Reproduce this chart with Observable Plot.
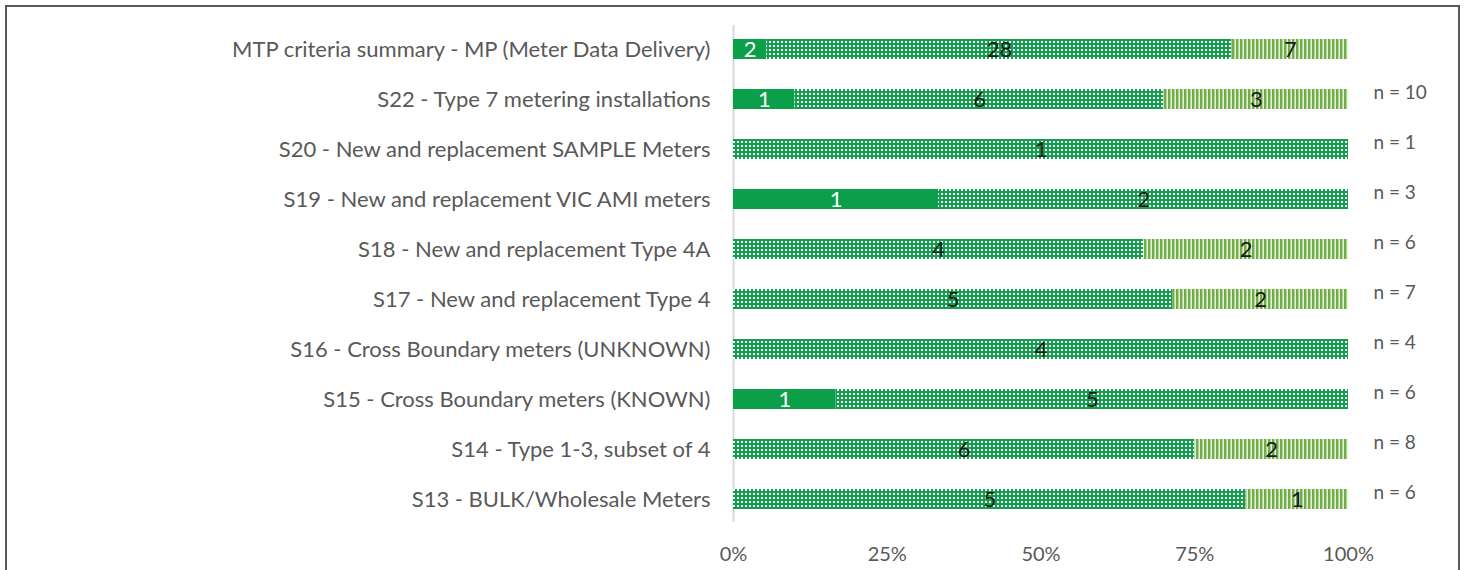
<!DOCTYPE html>
<html><head><meta charset="utf-8">
<script src="https://cdn.jsdelivr.net/npm/d3@7"></script>
<script src="https://cdn.jsdelivr.net/npm/@observablehq/plot@0.6"></script>
<style>
body{margin:0;background:#fff;}
#wrap{position:relative;width:1470px;height:570px;overflow:hidden;}
#frame{position:absolute;left:5px;top:5px;width:1451px;height:620px;border:2px solid #595959;pointer-events:none;}
</style></head><body><div id="wrap"><div id="frame"></div></div>
<script>
const categories = [
  "MTP criteria summary - MP (Meter Data Delivery)",
  "S22 - Type 7 metering installations",
  "S20 - New and replacement SAMPLE Meters",
  "S19 - New and replacement VIC AMI meters",
  "S18 - New and replacement Type 4A",
  "S17 - New and replacement Type 4",
  "S16 - Cross Boundary meters (UNKNOWN)",
  "S15 - Cross Boundary meters (KNOWN)",
  "S14 - Type 1-3, subset of 4",
  "S13 - BULK/Wholesale Meters"
];
const seriesNames = ["Met", "Partially met", "Not met"];
const met     = [2, 1, 0, 1, 0, 0, 0, 1, 0, 0];
const partial = [28, 6, 1, 2, 4, 5, 4, 5, 6, 5];
const notMet  = [7, 3, 0, 0, 2, 2, 0, 0, 2, 1];
const nLabels = ["", "n = 10", "n = 1", "n = 3", "n = 6", "n = 7", "n = 4", "n = 6", "n = 8", "n = 6"];
const xTicks = [0, 0.25, 0.5, 0.75, 1];

const seriesValues = [met, partial, notMet];
const table = categories.flatMap((c, i) => seriesNames.map((s, j) => ({category: c, series: s, value: seriesValues[j][i]})));
const nTable = categories.map((c, i) => ({category: c, label: nLabels[i]})).filter(d => d.label);

const stackOpts = {x: "value", y: "category", z: "series", order: seriesNames, offset: "normalize"};

const chart = Plot.plot({
  width: 1470, height: 570,
  marginLeft: 733, marginRight: 122, marginTop: 9, marginBottom: 31,
  style: {fontFamily: "Lato, sans-serif", fontSize: "20px", color: "#595959", background: "transparent"},
  x: {domain: [0, 1], ticks: xTicks, tickFormat: d3.format(".0%"), tickSize: 0, tickPadding: 7, label: null},
  y: {domain: categories, padding: 0.6, tickSize: 0, tickPadding: 23, label: null},
  color: {domain: seriesNames, range: ["#0B9F4A", "url(#dots)", "url(#stripes)"]},
  marks: [
    Plot.ruleX([0], {stroke: "#d9d9d9", strokeWidth: 2, insetTop: 16, insetBottom: 17}),
    Plot.barX(table, Plot.stackX({...stackOpts, fill: "series"})),
    Plot.text(table, Plot.filter(d => d.series === "Met" && d.value > 0, Plot.stackX({...stackOpts, text: "value", fill: "white", fontSize: 22}))),
    Plot.text(table, Plot.filter(d => d.series !== "Met" && d.value > 0, Plot.stackX({...stackOpts, text: "value", fill: "#1a1a1a", fontSize: 22}))),
    Plot.text(nTable, {y: "category", text: "label", frameAnchor: "right", dx: 25, dy: -7, textAnchor: "start", fill: "#595959", fontSize: 19})
  ]
});

// category tick labels larger
d3.select(chart).selectAll("g[aria-label='y-axis tick label'] text, g[aria-label='y-axis'] text").style("font-size", "22px");

const defs = d3.select(chart).insert("defs", ":first-child");
const dots = defs.append("pattern").attr("id", "dots").attr("patternUnits", "userSpaceOnUse").attr("width", 4).attr("height", 4);
dots.append("rect").attr("width", 4).attr("height", 4).attr("fill", "#12A04E");
dots.append("rect").attr("x", 1).attr("y", 1).attr("width", 2).attr("height", 2).attr("fill", "#ffffff");
const stripes = defs.append("pattern").attr("id", "stripes").attr("patternUnits", "userSpaceOnUse").attr("width", 4).attr("height", 4);
stripes.append("rect").attr("width", 4).attr("height", 4).attr("fill", "#e4f1da");
stripes.append("rect").attr("width", 2.4).attr("height", 4).attr("fill", "#70AD47");

document.getElementById("wrap").insertBefore(chart, document.getElementById("frame"));
</script>
</body></html>
